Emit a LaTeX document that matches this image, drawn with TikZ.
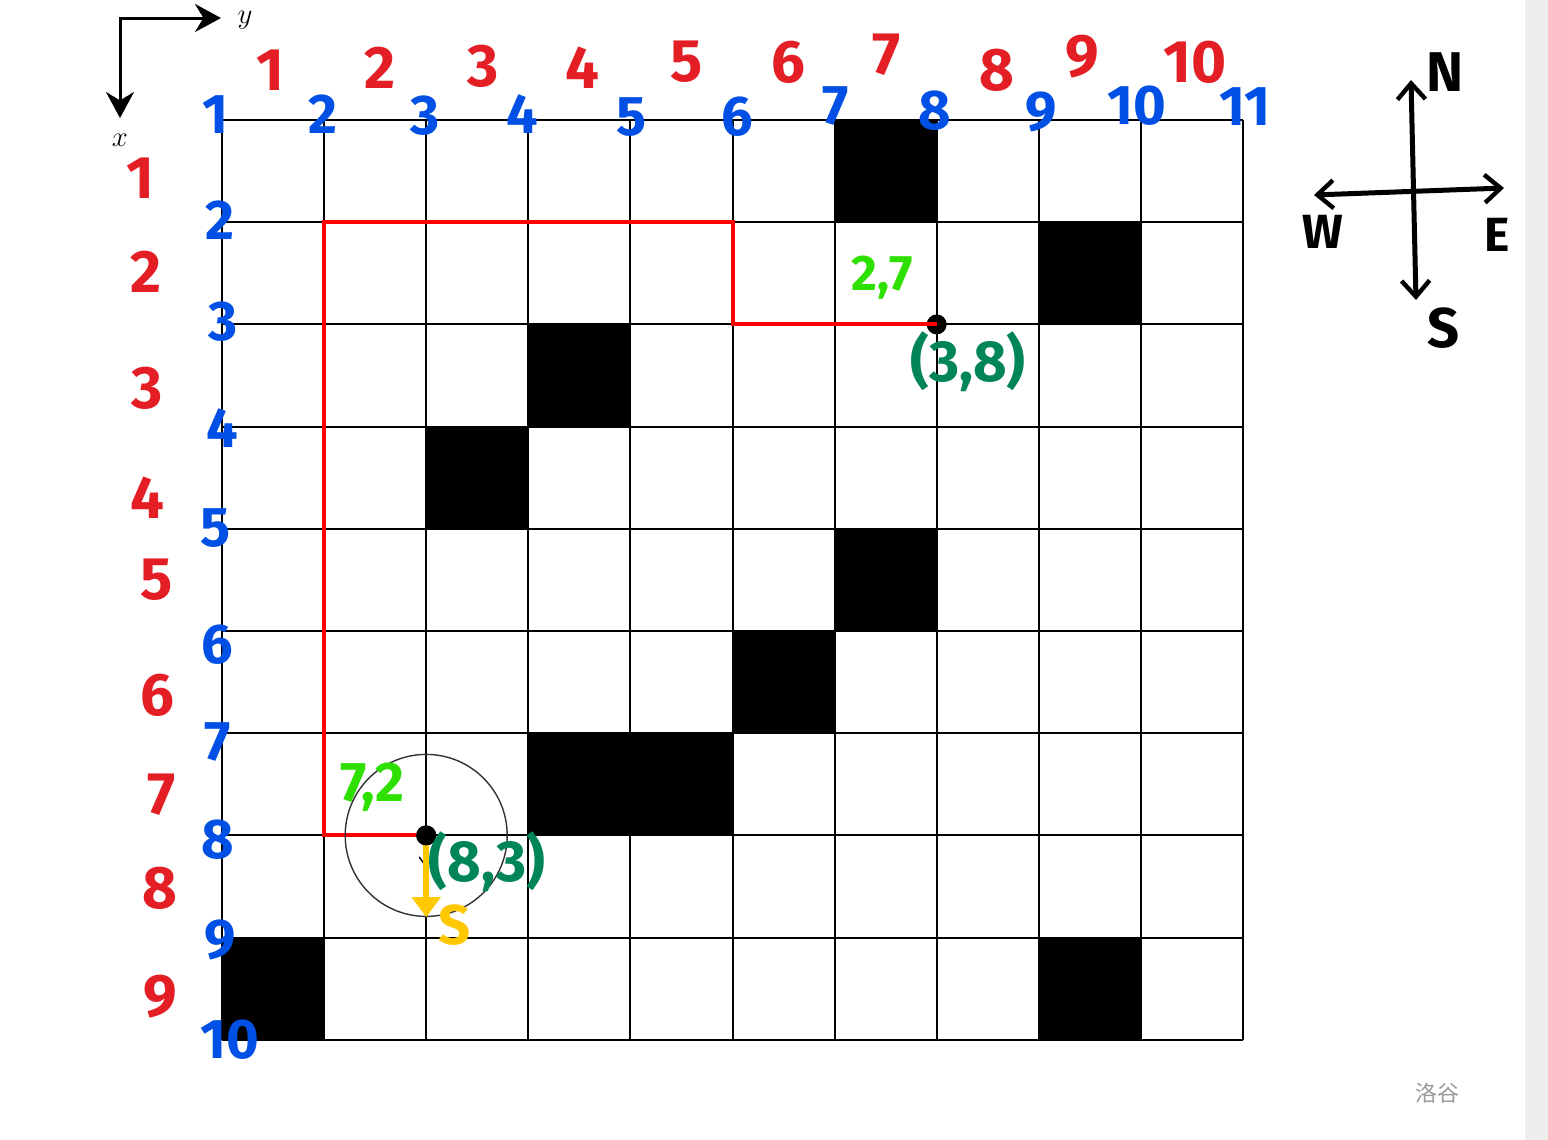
\documentclass[tikz,border=0pt]{standalone}
\usepackage{fontspec}
\newfontfamily\hand{Fira Sans}
\newfontfamily\cjk{Noto Sans CJK SC}
\usetikzlibrary{arrows.meta}
\definecolor{lblred}{HTML}{E31E24}
\definecolor{lblblue}{HTML}{0050E6}
\definecolor{lblgreen}{HTML}{2EE000}
\definecolor{lbldkgreen}{HTML}{00845A}
\definecolor{lblyellow}{HTML}{FFC800}
\definecolor{stripgray}{HTML}{EEEEEE}
\definecolor{markgray}{HTML}{9A9A9A}
\begin{document}
\begin{tikzpicture}[x=0.5pt,y=-0.5pt,
  redlbl/.style={text=lblred,font=\hand\bfseries\fontsize{30}{32}\selectfont,inner sep=0pt},
  bluelbl/.style={text=lblblue,font=\hand\bfseries\fontsize{28}{30}\selectfont,inner sep=0pt},
  greenlbl/.style={text=lblgreen,font=\hand\bfseries\fontsize{25}{27}\selectfont,inner sep=0pt},
  dkgreenlbl/.style={text=lbldkgreen,font=\hand\bfseries\fontsize{29}{31}\selectfont,inner sep=0pt},
  compasslbl/.style={text=black,font=\hand\bfseries\fontsize{24}{26}\selectfont,inner sep=0pt},
  dot/.style={circle,fill=black,minimum size=10pt,inner sep=0pt},
  gridline/.style={line width=1pt,draw=black},
  blockcell/.style={fill=black},
  pathline/.style={draw=red,line width=2pt},
  compassline/.style={line width=2.5pt,{Straight Barb[length=8pt,width=14pt,line width=2.2pt]}-{Straight Barb[length=8pt,width=14pt,line width=2.2pt]}},
  axisline/.style={line width=1.5pt,{Stealth[length=13pt,width=14pt]}-{Stealth[length=13pt,width=14pt]}}]
\useasboundingbox (0,0) rectangle (1548,1140);
\fill[white] (0,0) rectangle (1548,1140);
\fill[stripgray] (1525,0) rectangle (1548,1140);

% axes
\coordinate (axcorner) at (120,18);
\coordinate (axx) at (120,118);
\coordinate (axy) at (221,18);
\draw[axisline] (axx) -- (axcorner) -- (axy);
\node[font=\fontsize{14}{16}\selectfont] (ylab) at (245,20) {$y$};
\node[font=\fontsize{14}{16}\selectfont] (xlab) at (120,140) {$x$};

% grid in cell units
\begin{scope}[shift={(222,120)},x=51.05pt,y=-51.1pt]
  \fill[blockcell] (6,0) rectangle (7,1);
  \fill[blockcell] (8,1) rectangle (9,2);
  \fill[blockcell] (3,2) rectangle (4,3);
  \fill[blockcell] (2,3) rectangle (3,4);
  \fill[blockcell] (6,4) rectangle (7,5);
  \fill[blockcell] (5,5) rectangle (6,6);
  \fill[blockcell] (3,6) rectangle (5,7);
  \fill[blockcell] (0,8) rectangle (1,9);
  \fill[blockcell] (8,8) rectangle (9,9);
  \foreach \c in {0,...,10} \draw[gridline] (\c,0) -- (\c,9);
  \foreach \r in {0,...,9} \draw[gridline] (0,\r) -- (10,\r);
  \node[dot] (p38) at (7,2) {};
  \node[dot] (p83) at (2,7) {};
  \coordinate (r1) at (5,2);
  \coordinate (r2) at (5,1);
  \coordinate (r3) at (1,1);
  \coordinate (r4) at (1,7);
  \draw[pathline] (p38.center) -- (r1) -- (r2) -- (r3) -- (r4) -- (p83.center);
  \draw[line width=0.7pt,draw=black!80] (p83.center) circle[radius=40.5pt];
  \coordinate (blk) at (2,7.32);
  \draw[line width=0.7pt,-{Straight Barb[length=5pt,width=7pt]}] (p83.center) -- (blk);
  \coordinate (yend) at (2,7.8);
  \draw[draw=lblyellow,line width=3pt,-{Triangle[length=10pt,width=14pt]}] (p83.center) -- (yend);
  \node[dot] at (p83) {};
\end{scope}

% labels
\foreach \t/\x/\y [count=\i] in {1/270/70,2/380/68,3/483/66,4/582/68,5/687/62,6/788/62,7/887/55,8/997/70,9/1082/57,10/1195/62}
  \node[redlbl] (tr\i) at (\x,\y) {\t};
\foreach \t/\x/\y [count=\i] in {1/215/115,2/323/114,3/425/116,4/522/114,5/632/117,6/737/117,7/836/106,8/935/111,9/1041/112,10/1137/106,11/1245/107}
  \node[bluelbl] (tb\i) at (\x,\y) {\t};
\foreach \t/\x/\y [count=\i] in {1/140/178,2/146/272,3/147/388,4/147/498,5/157/580,6/157/695,7/162/795,8/160/888,9/160/997}
  \node[redlbl] (lr\i) at (\x,\y) {\t};
\foreach \t/\x/\y [count=\i] in {2/220/220,3/223/322,4/222/428,5/216/528,6/217/645,7/218/742,8/218/840,9/220/940,10/230/1040}
  \node[bluelbl] (lb\i) at (\x,\y) {\t};

\node[greenlbl] (g27) at (882,278) {2,7};
\node[greenlbl,font=\hand\bfseries\fontsize{28}{30}\selectfont] (g72) at (372,787) {7,2};
\node[dkgreenlbl] (d38) at (968,362) {(3,8)};
\node[dkgreenlbl] (d83) at (487,862) {(8,3)};
\node[text=lblyellow,font=\hand\bfseries\fontsize{28}{30}\selectfont,inner sep=0pt] (ys) at (455,925) {S};

% compass
\coordinate (cN) at (1411,80);
\coordinate (cS) at (1416,300);
\coordinate (cW) at (1314,195);
\coordinate (cE) at (1504,188);
\draw[compassline] (cN) -- (cS);
\draw[compassline] (cW) -- (cE);
\node[compasslbl,font=\hand\bfseries\fontsize{28}{30}\selectfont] (nN) at (1445,72) {N};
\node[compasslbl] (nW) at (1323,232) {W};
\node[compasslbl] (nE) at (1497,235) {E};
\node[compasslbl,font=\hand\bfseries\fontsize{28}{30}\selectfont] (nS) at (1444,328) {S};

\node[text=markgray,font=\cjk\fontsize{11}{13}\selectfont] (wm) at (1437,1093) {洛谷};
\end{tikzpicture}
\end{document}
